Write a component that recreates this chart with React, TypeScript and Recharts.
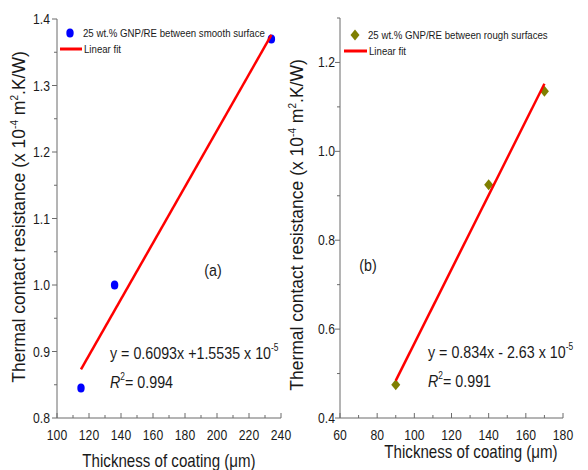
import React from "react";
import { ScatterChart, Scatter, XAxis, YAxis, Legend } from "recharts";

// panel (a): smooth surfaces
const smoothThickness = [115, 136, 234];
const smoothResistance = [0.845, 1.0, 1.37];
const smoothFitThickness = [115, 234];
const smoothFitResistance = [0.873, 1.376];

// panel (b): rough surfaces
const roughThickness = [90, 140, 170];
const roughResistance = [0.475, 0.925, 1.135];
const roughFitThickness = [90, 170];
const roughFitResistance = [0.484, 1.152];

const leftXTicks = [100, 110, 120, 130, 140, 150, 160, 170, 180, 190, 200, 210, 220, 230, 240];
const leftYTicks = [0.8, 0.85, 0.9, 0.95, 1.0, 1.05, 1.1, 1.15, 1.2, 1.25, 1.3, 1.35, 1.4];
const rightXTicks = [60, 70, 80, 90, 100, 110, 120, 130, 140, 150, 160, 170, 180];
const rightYTicks = [0.4, 0.5, 0.6, 0.7, 0.8, 0.9, 1.0, 1.1, 1.2, 1.3];

const AXIS = "#6b6b6b";
const INK = "#1a1a1a";
const FIT = "#ff0000";
const SQ = 0.84; // the source figure is squeezed horizontally

const toPoints = (xs: number[], ys: number[]) => xs.map((x, i) => ({ x, y: ys[i] }));

function SqText({ x, y, size, anchor = "start", children, italic }: any) {
    return (
        <g transform={`translate(${x},${y}) scale(${SQ},1)`}>
            <text x={0} y={0} fontSize={size} textAnchor={anchor} fill={INK} fontStyle={italic ? "italic" : "normal"}>
                {children}
            </text>
        </g>
    );
}

const makeXTick = (step: number) => (props: any) => {
    const { x, y, payload } = props;
    const v = payload.value;
    const major = Math.round(v) % step === 0;
    return (
        <g>
            <line x1={x} x2={x} y1={y} y2={y - (major ? 5 : 3)} stroke={AXIS} />
            {major && <SqText x={x} y={y + 22} size={14.5} anchor="middle">{v}</SqText>}
        </g>
    );
};

const makeYTick = (isMajor: (v: number) => boolean, gap: number) => (props: any) => {
    const { x, y, payload } = props;
    const v = payload.value;
    const major = isMajor(v);
    return (
        <g>
            <line x1={x - (major ? 5 : 3)} x2={x} y1={y} y2={y} stroke={AXIS} />
            {major && <SqText x={x - gap} y={y + 5} size={14.5} anchor="end">{v.toFixed(1)}</SqText>}
        </g>
    );
};

function Circle(props: any) {
    return <ellipse cx={props.cx} cy={props.cy} rx={3.7} ry={4.5} fill="#0000ff" />;
}

function Diamond(props: any) {
    const { cx, cy } = props;
    return <polygon points={`${cx},${cy - 5.5} ${cx + 4.5},${cy} ${cx},${cy + 5.5} ${cx - 4.5},${cy}`} fill="#7f7f00" />;
}

const NoDot = () => <g />;

function LegendBox({ marker, label, lineX1, lineX2 }: any) {
    return (
        <svg width={260} height={34} style={{ overflow: "visible", display: "block" }}>
            {marker}
            <SqText x={28} y={12} size={11.5}>{label}</SqText>
            <line x1={lineX1} x2={lineX2} y1={24} y2={24} stroke={FIT} strokeWidth={3} />
            <SqText x={lineX2 + 2} y={28} size={11.5}>Linear fit</SqText>
        </svg>
    );
}

function YTitle({ x, y }: { x: number; y: number }) {
    return (
        <text transform={`translate(${x},${y}) rotate(-90)`} fontSize={17.5} textAnchor="middle" fill={INK}>
            Thermal contact resistance (x 10
            <tspan dy={-7} fontSize={10}>-4</tspan>
            <tspan dy={7}> m</tspan>
            <tspan dy={-7} fontSize={10}>2</tspan>
            <tspan dy={7}>.K/W)</tspan>
        </text>
    );
}

export default function App() {
    const smooth = toPoints(smoothThickness, smoothResistance);
    const smoothFit = toPoints(smoothFitThickness, smoothFitResistance);
    const rough = toPoints(roughThickness, roughResistance);
    const roughFit = toPoints(roughFitThickness, roughFitResistance);

    return (
        <div
            style={{
                position: "absolute",
                left: 0,
                top: 0,
                width: 588,
                height: 470,
                background: "#fff",
                fontFamily: "'Liberation Sans', Arial, sans-serif",
                overflow: "hidden",
            }}
        >
            <div style={{ position: "absolute", left: 0, top: 0 }}>
                <ScatterChart width={300} height={470} margin={{ top: 19, right: 19, bottom: 0, left: 0 }}>
                    <XAxis
                        type="number"
                        dataKey="x"
                        domain={[100, 240]}
                        ticks={leftXTicks}
                        interval={0}
                        tickSize={0}
                        tickMargin={0}
                        tick={makeXTick(20)}
                        height={52}
                        axisLine={{ stroke: AXIS }}
                    />
                    <YAxis
                        type="number"
                        dataKey="y"
                        domain={[0.8, 1.4]}
                        ticks={leftYTicks}
                        interval={0}
                        tickSize={0}
                        tickMargin={0}
                        tick={makeYTick((v) => Math.round(v * 100) % 10 === 0, 7)}
                        width={57}
                        axisLine={{ stroke: AXIS }}
                    />
                    <Legend
                        layout="horizontal"
                        verticalAlign="middle"
                        align="center"
                        wrapperStyle={{ left: 55, top: 25, width: 260 }}
                        content={() => (
                            <LegendBox
                                marker={<ellipse cx={15} cy={8} rx={3.7} ry={4.5} fill="#0000ff" />}
                                label="25 wt.% GNP/RE between smooth surface"
                                lineX1={5}
                                lineX2={27}
                            />
                        )}
                    />
                    <Scatter data={smooth} shape={Circle} isAnimationActive={false} legendType="circle" />
                    <Scatter
                        data={smoothFit}
                        shape={NoDot}
                        line={{ stroke: FIT, strokeWidth: 2.5 }}
                        isAnimationActive={false}
                        legendType="line"
                    />
                </ScatterChart>
            </div>

            <div style={{ position: "absolute", left: 290, top: 0 }}>
                <ScatterChart width={298} height={470} margin={{ top: 18, right: 25, bottom: 0, left: 0 }}>
                    <XAxis
                        type="number"
                        dataKey="x"
                        domain={[60, 180]}
                        ticks={rightXTicks}
                        interval={0}
                        tickSize={0}
                        tickMargin={0}
                        tick={makeXTick(20)}
                        height={52}
                        axisLine={{ stroke: AXIS }}
                    />
                    <YAxis
                        type="number"
                        dataKey="y"
                        domain={[0.4, 1.3]}
                        ticks={rightYTicks}
                        interval={0}
                        tickSize={0}
                        tickMargin={0}
                        tick={makeYTick((v) => Math.round(v * 10) % 2 === 0 && v < 1.25, 5)}
                        width={50}
                        axisLine={{ stroke: AXIS }}
                    />
                    <Legend
                        layout="horizontal"
                        verticalAlign="middle"
                        align="center"
                        wrapperStyle={{ left: 50, top: 27, width: 260 }}
                        content={() => (
                            <LegendBox
                                marker={<polygon points="15,2.5 19.5,8 15,13.5 10.5,8" fill="#7f7f00" />}
                                label="25 wt.% GNP/RE between rough surfaces"
                                lineX1={4}
                                lineX2={27}
                            />
                        )}
                    />
                    <Scatter data={rough} shape={Diamond} isAnimationActive={false} legendType="diamond" />
                    <Scatter
                        data={roughFit}
                        shape={NoDot}
                        line={{ stroke: FIT, strokeWidth: 2.5 }}
                        isAnimationActive={false}
                        legendType="line"
                    />
                </ScatterChart>
            </div>

            <svg width={588} height={470} style={{ position: "absolute", left: 0, top: 0, pointerEvents: "none" }}>
                <YTitle x={25} y={217} />
                <YTitle x={303} y={225} />

                <SqText x={169} y={467} size={18} anchor="middle">Thickness of coating (μm)</SqText>
                <SqText x={471} y={458} size={18} anchor="middle">Thickness of coating (μm)</SqText>

                <SqText x={213} y={276} size={17} anchor="middle">(a)</SqText>
                <SqText x={368} y={271} size={17} anchor="middle">(b)</SqText>

                <g transform="translate(110,359) scale(0.84,1)">
                    <text fontSize={17} fill={INK}>
                        y = 0.6093x +1.5535 x 10<tspan dy={-8} fontSize={10}>-5</tspan>
                    </text>
                </g>
                <g transform="translate(110,388) scale(0.84,1)">
                    <text fontSize={17} fill={INK}>
                        <tspan fontStyle="italic">R</tspan>
                        <tspan dy={-8} fontSize={10}>2</tspan>
                        <tspan dy={8}>= 0.994</tspan>
                    </text>
                </g>

                <g transform="translate(428,358) scale(0.84,1)">
                    <text fontSize={17} fill={INK}>
                        y = 0.834x - 2.63 x 10<tspan dy={-8} fontSize={10}>-5</tspan>
                    </text>
                </g>
                <g transform="translate(428,387) scale(0.84,1)">
                    <text fontSize={17} fill={INK}>
                        <tspan fontStyle="italic">R</tspan>
                        <tspan dy={-8} fontSize={10}>2</tspan>
                        <tspan dy={8}>= 0.991</tspan>
                    </text>
                </g>
            </svg>
        </div>
    );
}
